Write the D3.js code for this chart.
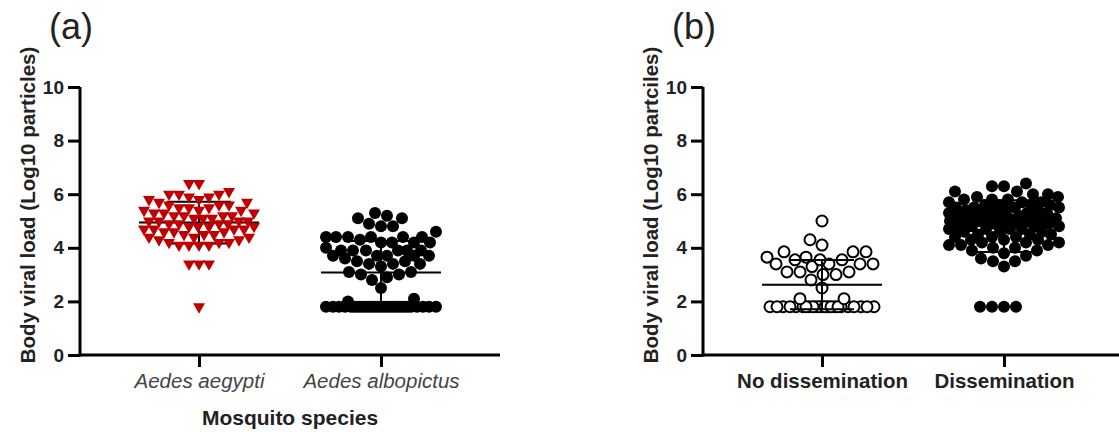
<!doctype html>
<html lang="en">
<head>
<meta charset="utf-8">
<title>body viral load scatter</title>
<script src="https://d3js.org/d3.v7.min.js"></script>
<style>
  body { margin: 0; background: #fff; }
  text { font-family: "Liberation Sans", Arial, sans-serif; fill: #222; }
</style>
</head>
<body>
<svg id="chart" width="1119" height="432"></svg>
<script>
// values (log10 particles)
var yTickValues = [0, 2, 4, 6, 8, 10];
var speciesCategories = ["Aedes aegypti", "Aedes albopictus"];
var disseminationCategories = ["No dissemination", "Dissemination"];

var aegyptiLoads = [6.4, 6.4, 6.1, 6.0, 6.0, 6.0, 5.9, 5.9, 5.8, 5.8, 5.7, 5.7, 5.6, 5.6, 5.6,
  5.5, 5.5, 5.5, 5.4, 5.4, 5.4, 5.3, 5.3, 5.3, 5.2, 5.2, 5.2, 5.2, 5.1, 5.1, 5.1,
  5.0, 5.0, 5.0, 5.0, 4.9, 4.9, 4.9, 4.9, 4.8, 4.8, 4.8, 4.8, 4.7, 4.7, 4.7, 4.7,
  4.6, 4.6, 4.6, 4.5, 4.5, 4.5, 4.4, 4.4, 4.4, 4.3, 4.3, 4.2, 4.2, 4.2,
  4.1, 4.1, 4.1, 4.1, 3.4, 3.4, 3.4, 1.8];

var albopictusLoads = [5.3, 5.2, 5.1, 5.1, 4.9, 4.8, 4.8, 4.6, 4.4, 4.4, 4.4, 4.4, 4.4, 4.4,
  4.3, 4.2, 4.2, 4.2, 4.2, 4.0, 3.9, 3.9, 3.9, 3.9, 3.9, 3.9, 3.7, 3.7, 3.7, 3.7, 3.7,
  3.6, 3.5, 3.5, 3.4, 3.4, 3.4, 3.3, 3.1, 3.1, 3.0, 3.0, 2.9, 2.8, 2.5, 2.1, 2.0,
  1.8, 1.8, 1.8, 1.8, 1.8, 1.8, 1.8, 1.8, 1.8, 1.8, 1.8, 1.8, 1.8, 1.8, 1.8, 1.8,
  1.8, 1.8, 1.8, 1.8, 1.8, 1.8, 1.8, 1.8, 1.8, 1.8, 1.8, 1.8, 1.8];

var noDisseminationLoads = [5.0, 4.3, 4.1, 3.85, 3.85, 3.85, 3.65, 3.65, 3.55, 3.55, 3.55,
  3.4, 3.4, 3.4, 3.4, 3.3, 3.1, 3.1, 3.1, 3.0, 3.0, 2.8, 2.5, 2.1, 2.1,
  1.8, 1.8, 1.8, 1.8, 1.8, 1.8, 1.8, 1.8, 1.8, 1.8, 1.8, 1.8, 1.8, 1.8, 1.8, 1.8,
  1.8, 1.8, 1.8, 1.8, 1.8, 1.8, 1.8];

var disseminationLoads = [6.4, 6.3, 6.3, 6.1, 6.1, 6.0, 6.0, 5.9, 5.9, 5.8, 5.8, 5.8, 5.7, 5.7, 5.7,
  5.6, 5.6, 5.6, 5.6, 5.5, 5.5, 5.5, 5.5, 5.4, 5.4, 5.4, 5.4, 5.3, 5.3, 5.3, 5.3,
  5.2, 5.2, 5.2, 5.2, 5.1, 5.1, 5.1, 5.1, 5.0, 5.0, 5.0, 5.0, 5.0, 4.9, 4.9, 4.9, 4.9,
  4.8, 4.8, 4.8, 4.8, 4.7, 4.7, 4.7, 4.7, 4.6, 4.6, 4.6, 4.5, 4.5, 4.5, 4.4, 4.4, 4.4,
  4.3, 4.3, 4.3, 4.2, 4.2, 4.2, 4.1, 4.1, 4.1, 4.0, 4.0, 3.9, 3.9, 3.8, 3.7, 3.6,
  3.5, 3.5, 3.3, 1.8, 1.8, 1.8, 1.8];

var chart = d3.select("#chart");

var y = d3.scaleLinear().domain([0, 10]).range([355, 87]);
var halfWidth = 55;

// column scatter: push each point sideways until it stops overlapping
function swarm(values, cx, d) {
  var sorted = values.slice().sort(d3.ascending);
  var offsets = d3.range(-halfWidth, halfWidth + 1).sort(function (a, b) {
    return Math.abs(a) - Math.abs(b) || a - b;
  });
  var placed = [];
  sorted.forEach(function (v) {
    var py = y(v), best = null, bestDist = -1;
    for (var i = 0; i < offsets.length; i++) {
      var px = cx + offsets[i], m = Infinity;
      placed.forEach(function (p) {
        var dd = Math.hypot(p.x - px, p.y - py);
        if (dd < m) m = dd;
      });
      if (m >= d) { best = px; break; }
      if (m > bestDist) { bestDist = m; best = px; }
    }
    placed.push({ v: v, x: best, y: py });
  });
  return placed;
}

function errorBars(g, values, cx) {
  var m = d3.mean(values), sd = d3.deviation(values);
  g.append("line").attr("x1", cx - 60).attr("x2", cx + 60)
    .attr("y1", y(m)).attr("y2", y(m));
  g.append("line").attr("x1", cx).attr("x2", cx)
    .attr("y1", y(m + sd)).attr("y2", y(m - sd));
  g.append("line").attr("x1", cx - 32).attr("x2", cx + 32)
    .attr("y1", y(m + sd)).attr("y2", y(m + sd));
  g.append("line").attr("x1", cx - 32).attr("x2", cx + 32)
    .attr("y1", y(m - sd)).attr("y2", y(m - sd));
}

function panel(x0, letter, categories, titleY, italicTicks, xTitle) {
  var x = d3.scalePoint().domain(categories).range([x0, x0 + 420]).padding(0.654);

  chart.append("text").attr("x", x0 - 31).attr("y", 39)
    .style("font-size", "36px").text(letter);

  chart.append("text")
    .attr("transform", "translate(" + (x0 - 45) + "," + 205 + ") rotate(-90)")
    .attr("text-anchor", "middle")
    .style("font-size", "20.5px").style("font-weight", "bold")
    .text(titleY);

  var ya = chart.append("g")
    .attr("transform", "translate(" + x0 + ",0)")
    .call(d3.axisLeft(y).tickValues(yTickValues).tickSize(12).tickSizeOuter(0).tickPadding(4));

  var xa = chart.append("g")
    .attr("transform", "translate(0,355)")
    .call(d3.axisBottom(x).tickSize(12).tickSizeOuter(0).tickPadding(6));
  xa.select(".domain").attr("d", "M" + (x0 - 1.5) + ",0H" + (x0 + 420));
  ya.select(".domain").attr("d", "M0,87V356.5");

  [ya, xa].forEach(function (a) {
    a.selectAll("path, line").style("stroke", "#000").style("stroke-width", "3px");
    a.selectAll("text").style("font-family", "'Liberation Sans', Arial, sans-serif")
      .style("fill", "#222");
  });
  ya.selectAll("text").style("font-size", "19px").style("font-weight", "bold");
  xa.selectAll("text").style("font-size", "20.5px")
    .style("font-weight", italicTicks ? "normal" : "bold")
    .style("font-style", italicTicks ? "italic" : "normal")
    .style("fill", italicTicks ? "#444" : "#222");

  if (xTitle) {
    chart.append("text").attr("x", x0 + 210).attr("y", 425)
      .attr("text-anchor", "middle")
      .style("font-size", "21px").style("font-weight", "bold")
      .text(xTitle);
  }
  return x;
}

var xa = panel(80, "(a)", speciesCategories, "Body viral load (Log10 particles)", true, "Mosquito species");
var xb = panel(703, "(b)", disseminationCategories, "Body viral load (Log10 partciles)", false, null);

var bars = chart.append("g").style("stroke", "#000").style("stroke-width", 2);

// Aedes aegypti: red down-triangles, bars underneath
errorBars(bars, aegyptiLoads, xa("Aedes aegypti"));
var tri = d3.symbol().type(d3.symbolTriangle).size(62);
chart.append("g").selectAll("path")
  .data(swarm(aegyptiLoads, xa("Aedes aegypti"), 10))
  .join("path")
  .attr("d", tri)
  .attr("transform", function (p) { return "translate(" + p.x + "," + p.y + ") rotate(180)"; })
  .attr("fill", "#c00000");

// filled black circles
chart.append("g").selectAll("circle")
  .data(swarm(albopictusLoads, xa("Aedes albopictus"), 12))
  .join("circle")
  .attr("cx", function (p) { return p.x; })
  .attr("cy", function (p) { return p.y; })
  .attr("r", 6).attr("fill", "#000");

chart.append("g").selectAll("circle")
  .data(swarm(disseminationLoads, xb("Dissemination"), 12))
  .join("circle")
  .attr("cx", function (p) { return p.x; })
  .attr("cy", function (p) { return p.y; })
  .attr("r", 6).attr("fill", "#000");

// open circles
chart.append("g").selectAll("circle")
  .data(swarm(noDisseminationLoads, xb("No dissemination"), 13))
  .join("circle")
  .attr("cx", function (p) { return p.x; })
  .attr("cy", function (p) { return p.y; })
  .attr("r", 5.5).attr("fill", "#fff").attr("stroke", "#000").attr("stroke-width", 2);

var bars2 = chart.append("g").style("stroke", "#000").style("stroke-width", 2);
errorBars(bars2, albopictusLoads, xa("Aedes albopictus"));
errorBars(bars2, noDisseminationLoads, xb("No dissemination"));
errorBars(bars2, disseminationLoads, xb("Dissemination"));
</script>
</body>
</html>
